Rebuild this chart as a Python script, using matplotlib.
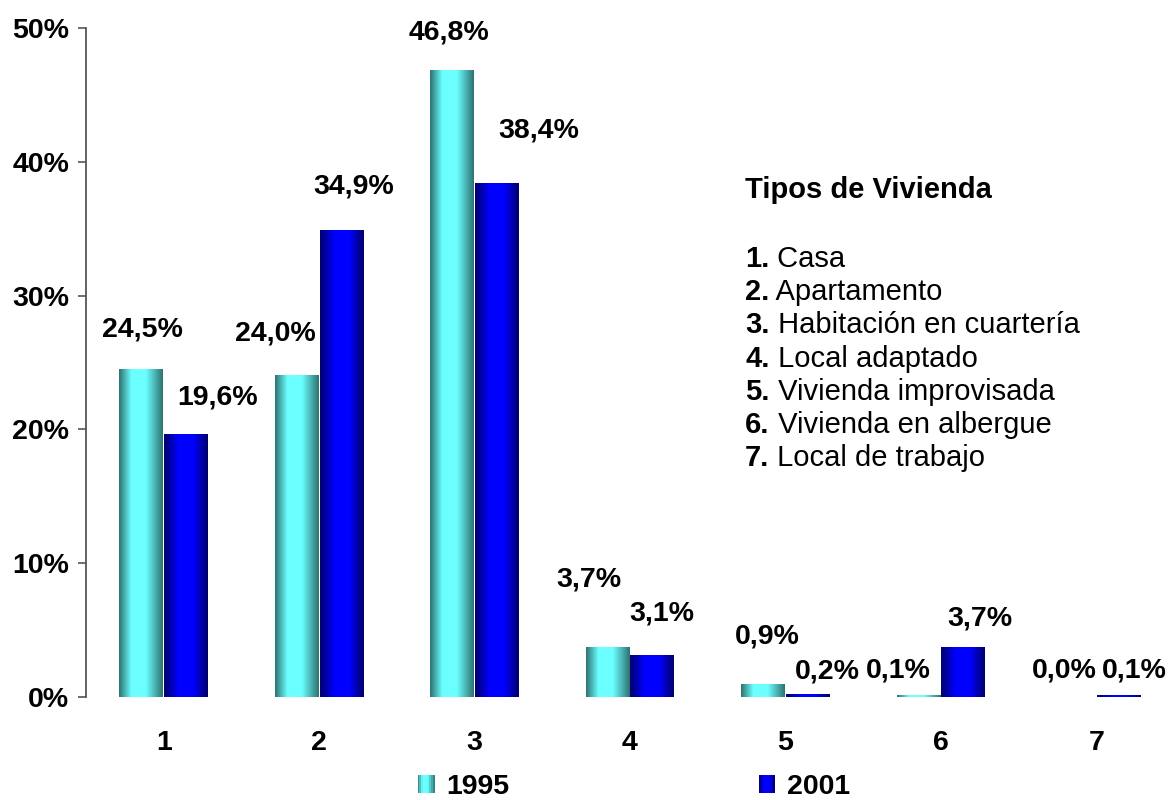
import numpy as np
import matplotlib
matplotlib.use("Agg")
import matplotlib.pyplot as plt
from matplotlib.legend_handler import HandlerBase
from matplotlib.patches import Rectangle, Patch

plt.rcParams['font.family'] = ['Liberation Sans', 'DejaVu Sans']

categories = ['1', '2', '3', '4', '5', '6', '7']
years = ['1995', '2001']
share_1995 = [24.5, 24.0, 46.8, 3.7, 0.9, 0.1, 0.0]
share_2001 = [19.6, 34.9, 38.4, 3.1, 0.2, 3.7, 0.1]
housing_types = ['Casa', 'Apartamento', 'Habitación en cuartería', 'Local adaptado',
                 'Vivienda improvisada', 'Vivienda en albergue', 'Local de trabajo']
box_title = 'Tipos de Vivienda'

# label nudges (pixels: dx, dy above bar top), hand placed like the original
nudge_1995 = [(1, 40), (-21, 42), (-3, 38), (-19, 68), (4, 48), (-20, 25), (-10, 26)]
nudge_2001 = [(31, 37), (12, 44), (42, 53), (9, 42), (20, 23), (17, 29), (16, 25)]

# gradient styles (dark edge, bright centre, position of the highlight)
cyan_style = (np.array([0.18, 0.45, 0.45]), np.array([0.42, 1.0, 1.0]), 0.42)
blue_style = (np.array([0.0, 0.0, 0.42]), np.array([0.0, 0.0, 1.0]), 0.5)


def shade(t, style):
    dark, light, peak = style
    s = np.where(t < peak, t / peak, (1 - t) / (1 - peak))
    s = np.clip(s * 1.5, 0, 1)
    return dark + (light - dark) * np.asarray(s)[..., None]


def gradient_bars(ax, bars, style):
    t = np.linspace(0, 1, 80)
    cols = shade(t, style)[None, :, :]
    for b in bars:
        x, w, h = b.get_x(), b.get_width(), b.get_height()
        b.set_facecolor('none')
        b.set_edgecolor('none')
        if h <= 0:
            continue
        ax.imshow(cols, extent=[x, x + w, 0, h], aspect='auto',
                  interpolation='bilinear', zorder=2)


class GradHandler(HandlerBase):
    def __init__(self, style):
        super().__init__()
        self.style = style

    def create_artists(self, legend, orig_handle, xdescent, ydescent,
                       width, height, fontsize, trans):
        n = 10
        arts = []
        for i in range(n):
            c = shade(np.array((i + 0.5) / n), self.style)
            arts.append(Rectangle((-xdescent + i * width / n, -ydescent),
                                  width / n + 0.2, height, facecolor=c,
                                  edgecolor='none', transform=trans))
        return arts


fig = plt.figure(figsize=(11.72, 8), dpi=100)
ax = fig.add_axes([86 / 1172, 1 - 697 / 800, 1088 / 1172, 669 / 800])

x = np.arange(1, len(categories) + 1)
w = 0.282
gap = 0.003
b1 = ax.bar(x - w / 2 - gap, share_1995, w)
b2 = ax.bar(x + w / 2 + gap, share_2001, w)
gradient_bars(ax, b1, cyan_style)
gradient_bars(ax, b2, blue_style)

ax.set_xlim(0.5, 7.5)
ax.set_ylim(0, 50)
ax.set_yticks([0, 10, 20, 30, 40, 50])
ax.set_yticklabels([f'{v}%' for v in [0, 10, 20, 30, 40, 50]])
ax.set_xticks(x)
ax.set_xticklabels(categories)
fs = 20.5
ax.tick_params(axis='y', length=6, width=1.2, color='#555555', pad=6,
               labelsize=fs)
ax.tick_params(axis='x', length=0, pad=24, labelsize=fs)
for lab in ax.get_xticklabels() + ax.get_yticklabels():
    lab.set_fontweight('bold')
for s in ['top', 'right', 'bottom']:
    ax.spines[s].set_visible(False)
ax.spines['left'].set_color('#555555')
ax.spines['left'].set_linewidth(1.3)

for bars, vals, nudges in [(b1, share_1995, nudge_1995), (b2, share_2001, nudge_2001)]:
    for b, v, (dx, dy) in zip(bars, vals, nudges):
        ax.annotate(f'{v:.1f}%'.replace('.', ','),
                    (b.get_x() + b.get_width() / 2, v),
                    xytext=(dx * 0.72, dy * 0.72), textcoords='offset points',
                    ha='center', va='center', fontsize=fs, fontweight='bold')

# type list box
box_fs = 21
fig.text(745 / 1172, 1 - 190 / 800, box_title, fontsize=box_fs, fontweight='bold',
         va='center', ha='left')
for i, name in enumerate(housing_types):
    t = fig.text(745 / 1172, 1 - (259 + 33.2 * i) / 800, f'{i + 1}.',
                 fontsize=box_fs, fontweight='bold', va='center', ha='left')
    ax.annotate(' ' + name, xy=(1, 0), xycoords=t, va='bottom', ha='left',
                fontsize=box_fs)

handles = [Patch(label=years[0]), Patch(label=years[1])]
leg = fig.legend(handles, years, loc='center', bbox_to_anchor=(634 / 1172, 1 - 787 / 800),
                 ncol=2, frameon=False, handlelength=0.58, handleheight=0.62,
                 handletextpad=0.42, columnspacing=8.75,
                 handler_map={handles[0]: GradHandler(cyan_style),
                              handles[1]: GradHandler(blue_style)},
                 prop={'size': fs, 'weight': 'bold'})

fig.savefig('out.png', dpi=100)
